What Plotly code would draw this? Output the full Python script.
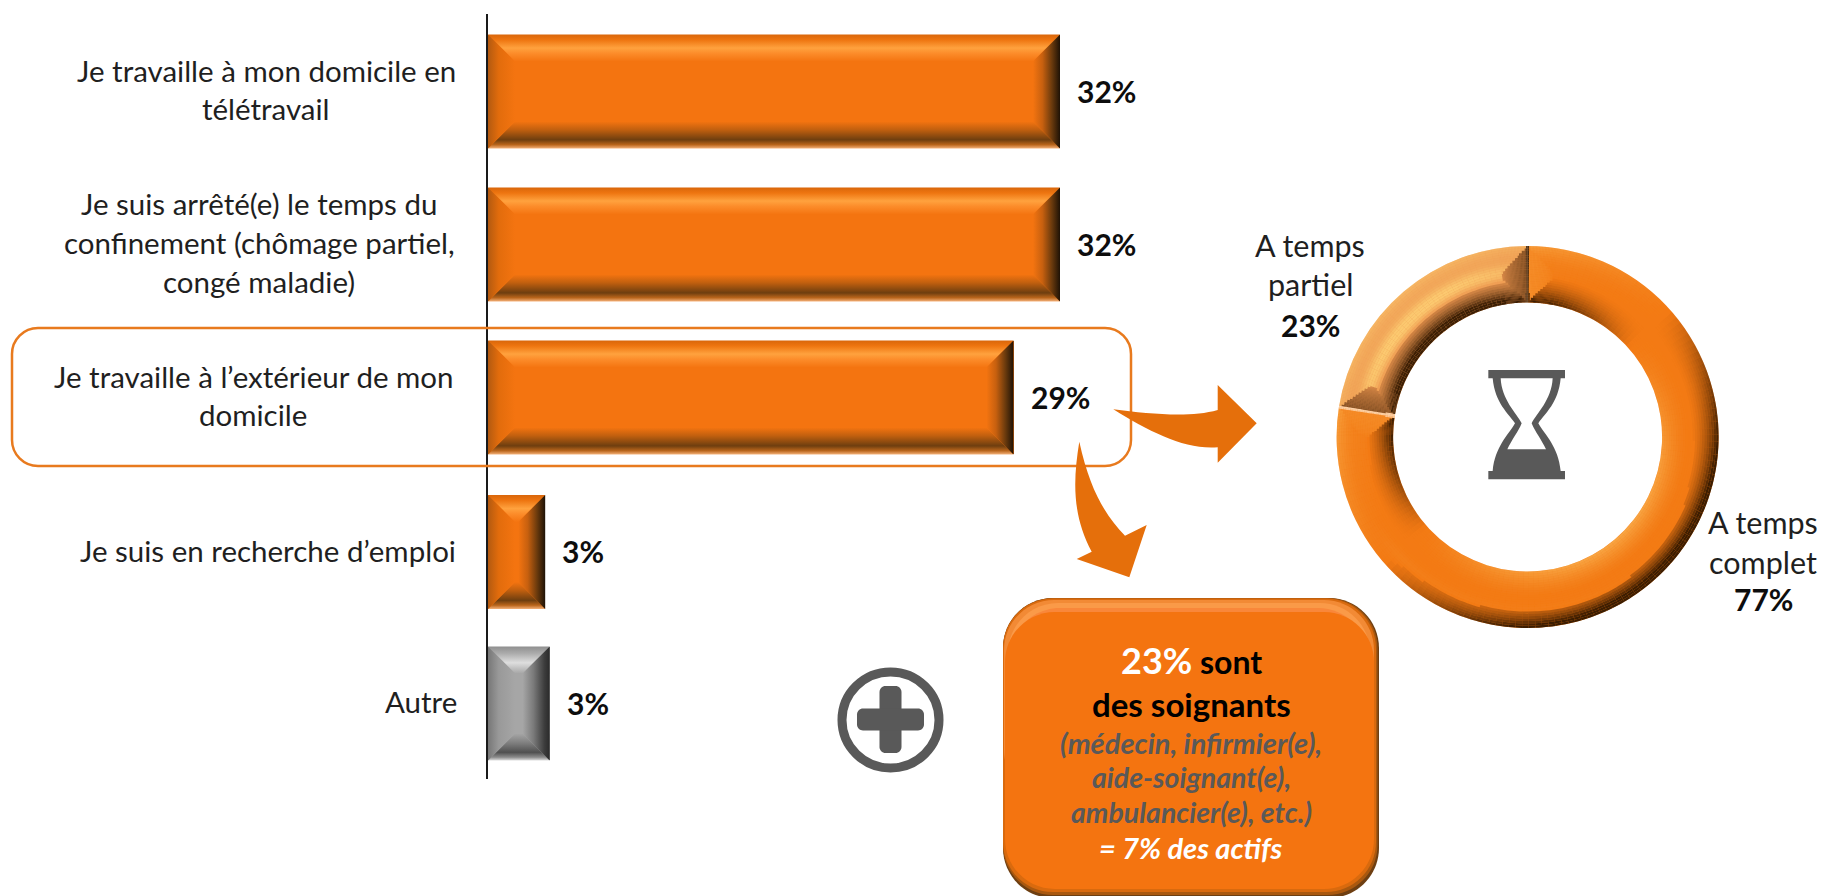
import math
import plotly.graph_objects as go

# ---------- data ----------
CATEGORY_LINES = [
    ["Je travaille à mon domicile en", "télétravail"],
    ["Je suis arrêté(e) le temps du", "confinement (chômage partiel,", "congé maladie)"],
    ["Je travaille à l’extérieur de mon", "domicile"],
    ["Je suis en recherche d’emploi"],
    ["Autre"],
]
BAR_VALUES = [32.0, 32.0, 29.4, 3.2, 3.45]
BAR_LABELS = ["32%", "32%", "29%", "3%", "3%"]
DONUT_LABELS = ["A temps complet", "A temps partiel"]
DONUT_VALUES = [77.5, 22.5]
DONUT_TEXT = ["77%", "23%"]

# ---------- layout constants ----------
W, H = 1823, 896
FONT = "Lato"
X0_PX, X1_PX = 488, 1200
PX_PER_UNIT = 17.875
Y_TOP, Y_BOT = 14, 779
ROW0, PITCH = 91.5, 153.0
BAR_W = 0.745
ORANGE, GREY = "#F47410", "#A6A6A6"
BEVEL = 27

def px(x): return x / W
def py(y): return 1 - y / H

ROWS = [0, 1, 2, 3.01, 4]
fig = go.Figure()

# ---------- bars ----------
fig.add_bar(
    x=BAR_VALUES, y=ROWS, orientation="h", width=BAR_W,
    marker=dict(color=[ORANGE, ORANGE, ORANGE, ORANGE, GREY], line=dict(width=0)),
    hoverinfo="skip", showlegend=False,
)

SCALES = {
    ORANGE: dict(
        top=[[0, "#F47410"], [.3, "#FC8C2A"], [.5, "#FFA23E"], [.8, "#EE7510"], [1, "#D9660A"]],
        bottom=[[0, "#F47410"], [.3, "#C2600F"], [.68, "#6E3E0F"], [.86, "#B9651B"], [1, "#F5B27A"]],
        right=[[0, "#F47410"], [.35, "#C7600F"], [.7, "#6A3A0D"], [1, "#1E1206"]],
        left=[[0, "#F47410"], [.6, "#E26C0C"], [1, "#B35A10"]],
    ),
    GREY: dict(
        top=[[0, "#A6A6A6"], [.4, "#DEDEDE"], [.75, "#ABABAB"], [1, "#8F8F8F"]],
        bottom=[[0, "#A6A6A6"], [.35, "#7F7F7F"], [.7, "#505050"], [.88, "#8C8C8C"], [1, "#DDDDDD"]],
        right=[[0, "#A6A6A6"], [.4, "#7A7A7A"], [.8, "#3D3D3D"], [1, "#2A2A2A"]],
        left=[[0, "#A6A6A6"], [.6, "#999999"], [1, "#777777"]],
    ),
}

def facet(xs, ys, kind, start, stop, scale):
    fig.add_scatter(
        x=xs, y=ys, mode="none", fill="toself",
        fillgradient=dict(type=kind, colorscale=scale, start=start, stop=stop),
        hoverinfo="skip", showlegend=False,
    )

for idx, (row, val) in enumerate(zip(ROWS, BAR_VALUES)):
    sc = SCALES[GREY if idx == 4 else ORANGE]
    dx = min(BEVEL / PX_PER_UNIT, val * 0.47)
    dy = BEVEL / PITCH
    x0, x1 = 0, val
    y0, y1 = row - BAR_W / 2, row + BAR_W / 2
    facet([x0, x1, x1 - dx, x0 + dx, x0], [y0, y0, y0 + dy, y0 + dy, y0], "vertical", y0 + dy, y0, sc["top"])
    facet([x0, x1, x1 - dx, x0 + dx, x0], [y1, y1, y1 - dy, y1 - dy, y1], "vertical", y1 - dy, y1, sc["bottom"])
    facet([x1, x1, x1 - dx, x1 - dx, x1], [y0, y1, y1 - dy, y0 + dy, y0], "horizontal", x1 - dx, x1, sc["right"])
    facet([x0, x0, x0 + dx, x0 + dx, x0], [y0, y1, y1 - dy, y0 + dy, y0], "horizontal", x0 + dx, x0, sc["left"])

# ---------- donut ----------
CX, CY, R_OUT, R_IN = 1527.6, 437.0, 191.0, 134.5

def dom(r):
    return dict(x=[px(CX - r), px(CX + r)], y=[py(CY + r), py(CY - r)])

fig.add_pie(
    labels=DONUT_LABELS, values=DONUT_VALUES, hole=R_IN / R_OUT, domain=dom(R_OUT),
    sort=False, direction="clockwise", rotation=0, textinfo="none",
    marker=dict(colors=["#F37A14", "#EE9850"], line=dict(width=0)),
    hoverinfo="skip", showlegend=False,
)

# shading rings laid over the two slices: fine angular steps near slice ends, coarse elsewhere
N_RINGS = 24
FINE_SPAN, FINE_STEP, COARSE_STEP = 9.0, 0.45, 2.0
LIGHT = (-0.55, 0.62)
RM, HW = (R_OUT + R_IN) / 2, (R_OUT - R_IN) / 2
TOTAL = sum(DONUT_VALUES)
bin_vals, bin_info = [], []
a0 = 0.0
for idx, v in enumerate(DONUT_VALUES):
    span = 360.0 * v / TOTAL
    n_f = int(FINE_SPAN / FINE_STEP)
    n_c = max(1, round((span - 2 * FINE_SPAN) / COARSE_STEP))
    widths = [FINE_STEP] * n_f + [(span - 2 * n_f * FINE_STEP) / n_c] * n_c + [FINE_STEP] * n_f
    pos = 0.0
    for w_ in widths:
        bin_vals.append(w_ * TOTAL / 360.0)
        bin_info.append((a0 + pos + w_ / 2, pos + w_ / 2, span - pos - w_ / 2, idx))
        pos += w_
    a0 += span

def shade(r, th, a_s, a_e, idx):
    u = (r - RM) / HW
    t = math.radians(th)
    ox, oy = math.sin(t), math.cos(t)
    cx, cy = math.cos(t), -math.sin(t)
    arc_s = math.radians(a_s) * r
    arc_e = math.radians(a_e) * r
    edge = HW * (1 - abs(u))
    arc = min(arc_s, arc_e)
    at_top = (idx == 1 and arc_e < arc_s) or (idx == 0 and arc_s < arc_e)
    if arc < 1.7:
        return "rgba(45,30,15,0.85)" if at_top else "rgba(255,225,190,0.8)"
    if arc < edge and arc < 27:
        mag = 0.62 * (1 - arc / 27) ** 0.5
        sgn = 1 if arc_e < arc_s else -1
        nx, ny = cx * sgn * mag, cy * sgn * mag
        extra = 0.0
    else:
        tilt = (1 if u >= 0 else -1) * abs(u) ** 1.7
        nx, ny = ox * tilt, oy * tilt
        d1 = max(0.0, math.cos(math.radians(th - 315)))
        d2 = max(0.0, math.cos(math.radians(th - 150)))
        extra = (0.85 if idx == 1 else 0.12) * d1 ** 2 * math.exp(-((u - 0.1) / 0.3) ** 2)
        extra += 0.3 * d2 * math.exp(-((u - 0.45) / 0.25) ** 2)
    s = nx * LIGHT[0] + ny * LIGHT[1]
    if s < 0:
        a = min(0.95, -s * 1.75)
        if extra > a:
            return f"rgba(255,214,120,{extra - a:.3f})"
        return f"rgba(50,24,0,{a:.3f})"
    a = min(0.8, s * 0.6 + extra)
    return f"rgba(255,214,120,{a:.3f})"

step = (R_OUT - R_IN) / N_RINGS
for i in range(N_RINGS):
    r1 = R_IN + i * step
    r2 = r1 + step
    rm = (r1 + r2) / 2
    colors = [shade(rm, th, s_, e_, ix) for th, s_, e_, ix in bin_info]
    fig.add_pie(
        values=bin_vals, hole=r1 / r2, domain=dom(r2), sort=False, direction="clockwise",
        rotation=0, textinfo="none", marker=dict(colors=colors, line=dict(width=0)),
        hoverinfo="skip", showlegend=False,
    )

# ---------- decorative shapes ----------
def P(x, y):
    return f"{px(x):.6f},{py(y):.6f}"

def rrect(x0, y0, x1, y1, r):
    k = 0.5523 * r
    return (f"M{P(x0 + r, y0)} L{P(x1 - r, y0)} C{P(x1 - r + k, y0)} {P(x1, y0 + r - k)} {P(x1, y0 + r)} "
            f"L{P(x1, y1 - r)} C{P(x1, y1 - r + k)} {P(x1 - r + k, y1)} {P(x1 - r, y1)} "
            f"L{P(x0 + r, y1)} C{P(x0 + r - k, y1)} {P(x0, y1 - r + k)} {P(x0, y1 - r)} "
            f"L{P(x0, y0 + r)} C{P(x0, y0 + r - k)} {P(x0 + r - k, y0)} {P(x0 + r, y0)} Z")

shapes = []
def add_path(d, fill=None, line=None, lw=0):
    s = dict(type="path", xref="paper", yref="paper", path=d, layer="above")
    if fill: s["fillcolor"] = fill
    s["line"] = dict(color=line or "rgba(0,0,0,0)", width=lw)
    shapes.append(s)

# highlight frame
add_path(rrect(12, 328, 1131, 466, 26), line="#E87A1E", lw=2.5)

# arrows
AC = "#E56F0B"
add_path(f"M{P(1113.3,409.3)} C{P(1150,414)} {P(1190,418)} {P(1217.7,410)} L{P(1217.7,385)} L{P(1256.7,423.3)} "
         f"L{P(1217.7,462.7)} L{P(1217.7,447.3)} C{P(1185,450)} {P(1150,432)} {P(1113.3,409.3)} Z", fill=AC)
add_path(f"M{P(1079.3,441.7)} C{P(1090,490)} {P(1105,515)} {P(1125,535.7)} L{P(1146.7,525)} L{P(1129.3,577.3)} "
         f"L{P(1076.7,559)} L{P(1091.7,551.7)} C{P(1072,515)} {P(1073,480)} {P(1079.3,441.7)} Z", fill=AC)

# callout box: dark lower-right rim, soft top highlight
for (x0, y0, x1, y1, c) in [
    (1003, 598, 1379, 898, "#6E3F12"),
    (1003, 598, 1377.5, 895, "#A9580F"),
    (1003, 598.5, 1376, 892, "#D96A0E"),
    (1004, 600, 1374, 800, "#F28A35"),
    (1008, 603, 1370, 800, "#FA9A48"),
    (1010, 608, 1368, 800, "#F9873A"),
    (1005, 612, 1374, 889, ORANGE),
]:
    add_path(rrect(x0, y0, x1, y1, 50), fill=c)

# plus badge
ICON = "#595959"
shapes.append(dict(type="circle", xref="paper", yref="paper", x0=px(842), x1=px(939), y0=py(768), y1=py(672),
                   line=dict(color=ICON, width=9), fillcolor="rgba(0,0,0,0)", layer="above"))
add_path(rrect(879.5, 686, 901.5, 753, 6), fill=ICON)
add_path(rrect(857, 708.5, 924, 730.5, 6), fill=ICON)

# hourglass
def hg(x, y):
    return P(1470 + x / 3, 360 + y / 3)
add_path(f"M{hg(55,30)} L{hg(285,30)} L{hg(285,55)} L{hg(272,55)} C{hg(265,130)} {hg(225,160)} {hg(205,190)} "
         f"C{hg(225,225)} {hg(265,260)} {hg(272,333)} L{hg(285,333)} L{hg(285,358)} L{hg(55,358)} L{hg(55,333)} "
         f"L{hg(68,333)} C{hg(75,260)} {hg(115,225)} {hg(135,190)} C{hg(115,160)} {hg(75,130)} {hg(68,55)} "
         f"L{hg(55,55)} Z", fill=ICON)
add_path(f"M{hg(92,55)} L{hg(248,55)} C{hg(245,120)} {hg(200,160)} {hg(185,190)} C{hg(195,215)} {hg(215,240)} "
         f"{hg(228,268)} L{hg(112,268)} C{hg(125,240)} {hg(145,215)} {hg(155,190)} C{hg(140,160)} {hg(95,120)} {hg(92,55)} Z",
         fill="#FFFFFF")

# ---------- text ----------
ann = []
def T(x, y, s, size, color="#1F1F1F", weight=400, style="normal", anchor="center"):
    ann.append(dict(xref="paper", yref="paper", x=px(x), y=py(y), text=s, showarrow=False,
                    xanchor=anchor, yanchor="middle", align="center",
                    font=dict(family=FONT, size=size, color=color, weight=weight, style=style)))

LINE_GAP = 39
LABEL_SIZE = 29.5
LABEL_CENTER = [266, 259, 253, 268, 421]
for row, lines, center in zip(ROWS, CATEGORY_LINES, LABEL_CENTER):
    yc = ROW0 + PITCH * row
    n = len(lines)
    for j, line in enumerate(lines):
        y = yc - 2 + (j - (n - 1) / 2) * LINE_GAP
        T(center, y, line, LABEL_SIZE)

# value labels bound to the bars' axes
for row, val, lab in zip(ROWS, BAR_VALUES, BAR_LABELS):
    ann.append(dict(xref="x", yref="y", x=val, y=row, text=lab, showarrow=False, xanchor="left", xshift=15, yshift=1,
                    yanchor="middle", font=dict(family=FONT, size=30, color="#0D0D0D", weight=700)))

# donut labels
T(1310, 245, "A temps", 30.5)
T(1310, 284, "partiel", 30.5)
T(1310, 325, DONUT_TEXT[1], 30, "#0D0D0D", 700)
T(1763, 522, "A temps", 30.5)
T(1763, 562, "complet", 30.5)
T(1763, 599, DONUT_TEXT[0], 30, "#0D0D0D", 700)

# callout text
T(1191, 660, '<span style="color:#FFFFFF;font-size:36px">23%</span> sont', 32, "#000000", 700)
T(1191, 704, "des soignants", 33, "#000000", 700)
T(1191, 742, "(médecin, infirmier(e),", 29, "#595959", 700, "italic")
T(1191, 777, "aide-soignant(e),", 28.5, "#595959", 700, "italic")
T(1191, 812, "ambulancier(e), etc.)", 28.5, "#595959", 700, "italic")
T(1191, 847, "= 7% des actifs", 29, "#FFFFFF", 700, "italic")

# ---------- layout ----------
fig.update_layout(
    width=W, height=H, margin=dict(l=0, r=0, t=0, b=0),
    paper_bgcolor="#FFFFFF", plot_bgcolor="rgba(0,0,0,0)",
    showlegend=False, shapes=shapes, annotations=ann, bargap=0,
    xaxis=dict(domain=[px(X0_PX), px(X1_PX)], range=[0, (X1_PX - X0_PX) / PX_PER_UNIT], visible=False, fixedrange=True),
    yaxis=dict(domain=[py(Y_BOT), py(Y_TOP)],
               range=[(Y_BOT - ROW0) / PITCH, (Y_TOP - ROW0) / PITCH],
               showline=True, linecolor="#1A1A1A", linewidth=1.6, showgrid=False, zeroline=False,
               showticklabels=False, ticks="", fixedrange=True),
)

fig.write_html("out.html", config=dict(displayModeBar=False),
               post_script="document.body.style.margin='0';document.body.style.overflow='hidden';")
